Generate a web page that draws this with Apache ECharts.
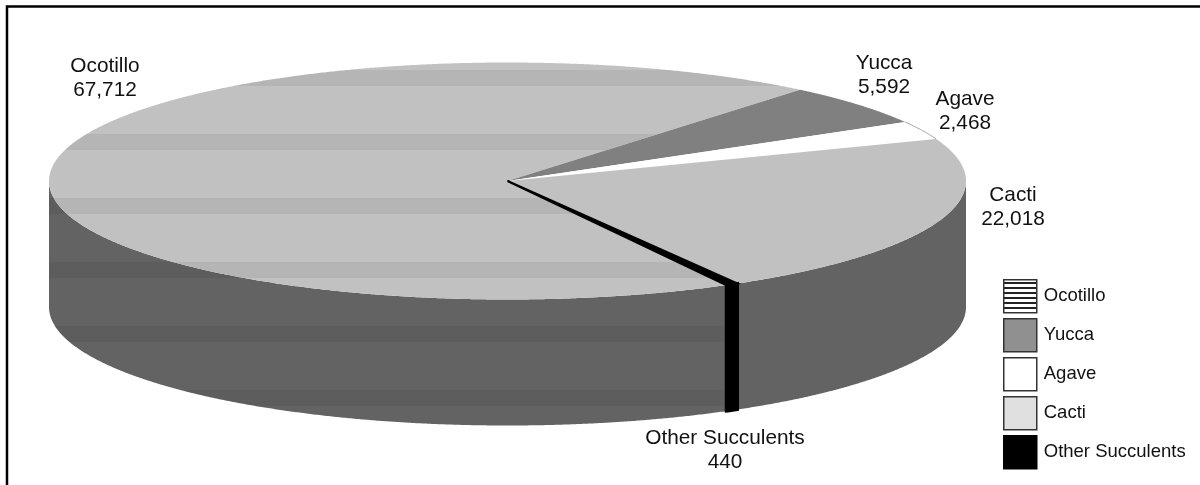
<!DOCTYPE html>
<html><head><meta charset="utf-8">
<style>html,body{margin:0;padding:0;background:#fff}#c{width:1200px;height:485px}</style>
<script src="https://cdn.jsdelivr.net/npm/echarts@6/dist/echarts.min.js"></script>
</head><body><div id="c"></div>
<script>
const categories = ['Ocotillo', 'Yucca', 'Agave', 'Cacti', 'Other Succulents'];
const values = [67712, 5592, 2468, 22018, 440];

const geom = { cx: 507.5, cy: 181, rx: 458.5, ry: 118.5, depth: 126, startAngle: 298.5 };
const labelCentres = [[105, 78], [884, 75], [965, 111], [1013, 207], [725, 450]];
const FONT = '"Liberation Sans", Arial, sans-serif';

function bands(light, dark) {
  const stops = [];
  const H = 485;
  stops.push({ offset: 0, color: light });
  for (let y = 70; y < H; y += 64) {
    stops.push({ offset: y / H, color: light }, { offset: y / H, color: dark },
               { offset: (y + 16) / H, color: dark }, { offset: (y + 16) / H, color: light });
  }
  stops.push({ offset: 1, color: light });
  return { type: 'linear', x: 0, y: 0, x2: 0, y2: H, global: true, colorStops: stops };
}
function hatch() {
  const stops = [], n = 7;
  for (let i = 0; i < n; i++) {
    const a = i / n, b = (i + 0.62) / n, c = (i + 1) / n;
    stops.push({ offset: a, color: '#fff' }, { offset: b, color: '#fff' },
               { offset: b, color: '#222' }, { offset: c, color: '#222' });
  }
  return { type: 'linear', x: 0, y: 0, x2: 0, y2: 1, colorStops: stops };
}
const topFill  = [bands('#c1c1c1', '#b5b5b5'), '#808080', '#ffffff', '#c1c1c1', '#000000'];
const wallFill = [bands('#636363', '#5d5d5d'), '#808080', '#ffffff', '#636363', '#000000'];
const swatch = [hatch(), '#909090', '#ffffff', '#e0e0e0', '#000000'];

const total = values.reduce((a, b) => a + b, 0);
const ranges = [];
{
  let a = geom.startAngle;
  values.forEach(v => { const sweep = v / total * 360; ranges.push([a, a - sweep]); a -= sweep; });
}
function pt(deg, dy) {
  const r = deg * Math.PI / 180;
  return [geom.cx + geom.rx * Math.cos(r), geom.cy - geom.ry * Math.sin(r) + dy];
}
function arc(a, b) {
  const out = [], n = Math.max(2, Math.ceil((a - b) / 0.25));
  for (let i = 0; i <= n; i++) out.push(a + (b - a) * i / n);
  return out;
}
function render(i) {
  const [a, b] = ranges[i];
  const children = [];
  const front = arc(a, b).filter(d => ((d % 360) + 360) % 360 >= 180);
  if (front.length > 1) {
    const pts = front.map(d => pt(d, 0)).concat(front.slice().reverse().map(d => pt(d, geom.depth)));
    children.push({ type: 'polygon', shape: { points: pts },
      style: { fill: wallFill[i], stroke: i === 4 ? '#000' : null, lineWidth: i === 4 ? 3 : 0 } });
  }
  const top = [[geom.cx, geom.cy]].concat(arc(a, b).map(d => pt(d, 0)));
  children.push({ type: 'polygon', z2: 5, shape: { points: top },
    style: { fill: topFill[i], stroke: i === 4 ? '#000' : null, lineWidth: i === 4 ? 2 : 0 } });
  if (i === 2) {
    children.push({ type: 'polyline', z2: 6, shape: { points: arc(a, b).map(d => pt(d, 0)) },
      style: { stroke: '#a0a0a0', lineWidth: 1, fill: null } });
  }
  children.push({ type: 'text', z2: 10, x: labelCentres[i][0], y: labelCentres[i][1],
    style: { text: categories[i] + '\n' + values[i].toLocaleString('en-US'),
      font: '20.8px ' + FONT, fill: '#111', align: 'center', verticalAlign: 'middle', lineHeight: 24 } });
  return { type: 'group', children };
}

const chart = echarts.init(document.getElementById('c'), null, { renderer: 'canvas' });
chart.setOption({
  animation: false,
  backgroundColor: '#fff',
  legend: {
    left: 1003, top: 279, orient: 'vertical', itemWidth: 33, itemHeight: 33, itemGap: 4.5,
    itemStyle: { borderColor: '#333', borderWidth: 1.5 },
    selectedMode: false, icon: 'rect', padding: 0,
    textStyle: { fontFamily: FONT, fontSize: 18.5, color: '#111', padding: [0, 0, 0, 2] },
    data: categories.map((n, i) => ({ name: n, icon: 'rect',
      itemStyle: { color: swatch[i], borderColor: i === 4 ? '#000' : '#333', borderWidth: 1.5 } }))
  },
  graphic: [{ type: 'polyline', silent: true,
    shape: { points: [[7, 485], [7, 6.5], [1200, 6.5]] },
    style: { stroke: '#000', lineWidth: 2.5, fill: null } }],
  series: categories.map((name, i) => ({
    type: 'custom', name, coordinateSystem: 'none', silent: true,
    itemStyle: { color: swatch[i] },
    z: i === 4 ? 3 : 2,
    data: [values[i]],
    renderItem: () => render(i)
  }))
});
</script></body></html>
